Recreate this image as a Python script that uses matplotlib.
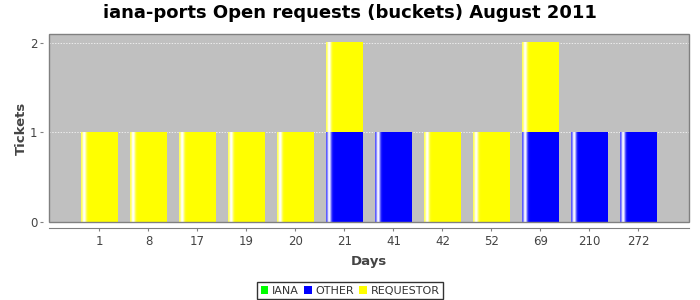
import numpy as np
import matplotlib
matplotlib.use("Agg")
import matplotlib.pyplot as plt
from matplotlib.patches import Patch, Rectangle

# data
days = ['1', '8', '17', '19', '20', '21', '41', '42', '52', '69', '210', '272']
iana = [0, 0, 0, 0, 0, 0, 0, 0, 0, 0, 0, 0]
other = [0, 0, 0, 0, 0, 1, 1, 0, 0, 1, 1, 1]
requestor = [1, 1, 1, 1, 1, 1, 0, 1, 1, 1, 0, 0]

series = [('IANA', iana, '#00FF00'),
          ('OTHER', other, '#0000FF'),
          ('REQUESTOR', requestor, '#FFFF00')]


def shade_bar(ax, patch, color):
    # jfreechart-like gradient: white stripe near the left edge
    w, h = patch.get_width(), patch.get_height()
    if h <= 0:
        return
    x0, y0 = patch.get_x(), patch.get_y()
    t = np.linspace(0, 1, 400)
    f = np.exp(-((t - 0.085) / 0.06) ** 2)
    f = np.maximum(f, 0.4 * np.exp(-(t / 0.03) ** 2))
    base = np.array(matplotlib.colors.to_rgb(color))
    img = base[None, :] * (1 - f[:, None]) + f[:, None]
    ax.imshow(img[None, :, :], extent=[x0, x0 + w, y0, y0 + h],
              aspect='auto', interpolation='bilinear', zorder=3)


def main():
    plt.rcParams['font.family'] = ['DejaVu Sans']
    fig = plt.figure(figsize=(7, 3), dpi=100)
    ax = fig.add_axes([0.070, 0.260, 0.914, 0.627])
    ax.set_facecolor('#C0C0C0')

    x = np.arange(len(days))
    bottom = np.zeros(len(days))
    for name, vals, col in series:
        vals = np.array(vals, dtype=float)
        bars = ax.bar(x, vals, 0.755, bottom=bottom, color=col,
                      linewidth=0, zorder=2, label=name)
        for p in bars:
            shade_bar(ax, p, col)
        bottom += vals

    ax.set_xlim(-1.03, len(days) - 1 + 1.03)
    ax.set_ylim(0, 2.1)
    ax.set_yticks([0, 1, 2])
    ax.set_xticks(x)
    ax.set_xticklabels(days)
    ax.yaxis.grid(True, color='white', linestyle=(0, (2, 2)), linewidth=0.5)
    ax.set_axisbelow(True)

    for s in ['top', 'right']:
        ax.spines[s].set_visible(False)
    ax.spines['left'].set_position(('outward', 4))
    ax.spines['left'].set_visible(False)
    ax.spines['bottom'].set_position(('outward', 4))
    ax.spines['bottom'].set_color('#808080')
    # plot area border
    ax.add_patch(Rectangle((0, 0), 1, 1, transform=ax.transAxes, fill=False,
                           edgecolor='#808080', linewidth=1, zorder=5, clip_on=False))

    ax.tick_params(axis='both', colors='#808080', labelcolor='#444444',
                   labelsize=8.5, length=2.5, width=0.8)
    ax.tick_params(axis='x', pad=3)
    ax.tick_params(axis='y', pad=2)

    ax.set_xlabel('Days', fontsize=9.5, fontweight='bold', color='#444444', labelpad=5)
    ax.set_ylabel('Tickets', fontsize=9.5, fontweight='bold', color='#444444', labelpad=1)
    fig.suptitle('iana-ports Open requests (buckets) August 2011', fontsize=13,
                 fontweight='bold', y=0.985)

    handles = [Patch(facecolor=c, edgecolor='none', label=n) for n, v, c in series]
    leg = fig.legend(handles=handles, loc='center', bbox_to_anchor=(0.5, 0.031),
                     ncol=3, fontsize=8, frameon=True, fancybox=False,
                     handlelength=0.7, handleheight=0.7, handletextpad=0.3,
                     columnspacing=0.5, borderpad=0.3, borderaxespad=0)
    for t in leg.get_texts():
        t.set_color('#333333')
    leg.get_frame().set_edgecolor('black')
    leg.get_frame().set_linewidth(1)

    fig.savefig('out.png', dpi=100)


if __name__ == "__main__":
    main()
